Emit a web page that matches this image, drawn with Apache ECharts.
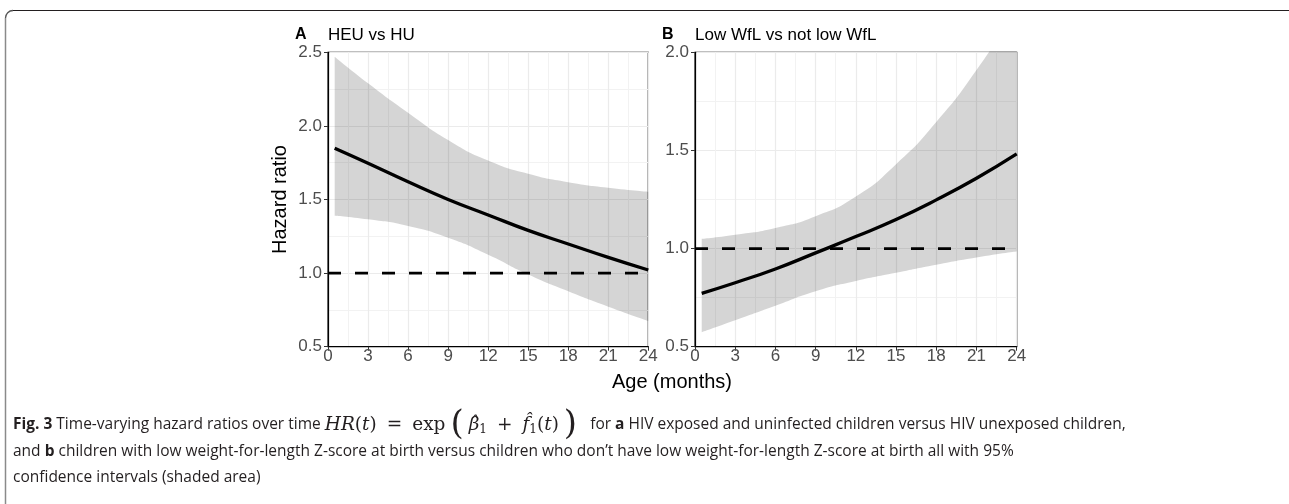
<!DOCTYPE html>
<html>
<head>
<meta charset="utf-8">
<script src="https://cdn.jsdelivr.net/npm/echarts@6/dist/echarts.min.js"></script>
<style>
  html, body { margin: 0; padding: 0; background: #fff; }
  #chart { width: 1289px; height: 504px; }
</style>
</head>
<body>
<div id="chart"></div>
<script>
// months since birth, shared by both panels
const ages = [0.5, 3, 6, 9, 12, 15, 18, 21, 24];

// panel A: HEU vs HU
const fitA = [1.848, 1.746, 1.62, 1.50, 1.395, 1.29, 1.198, 1.107, 1.021];
const upperA = [2.47, 2.29, 2.09, 1.905, 1.765, 1.675, 1.618, 1.58, 1.553];
const lowerA = [1.39, 1.365, 1.32, 1.24, 1.125, 0.99, 0.876, 0.772, 0.675];

// panel B: low WfL vs not low WfL
const fitB = [0.772, 0.826, 0.896, 0.978, 1.061, 1.148, 1.248, 1.358, 1.482];
const upperB = [1.049, 1.07, 1.105, 1.165, 1.265, 1.43, 1.645, 1.91, 2.22];
const lowerB = [0.574, 0.635, 0.709, 0.783, 0.835, 0.877, 0.918, 0.955, 0.985];

const refLine = [[0, 1], [24, 1]];

const pairs = (xs, ys) => xs.map((x, i) => [x, ys[i]]);
// value first, age second: lets the stack run on the y dimension
const valueFirst = (xs, ys) => xs.map((x, i) => [ys[i], x]);
const diff = (hi, lo) => hi.map((v, i) => +(v - lo[i]).toFixed(4));

const FONT = 'Liberation Sans';

function xAxisFor(gridIndex) {
    return {
        type: 'value',
        gridIndex: gridIndex,
        min: 0,
        max: 24,
        interval: 3,
        axisLine: { show: true, onZero: false, lineStyle: { color: '#000', width: 1.2 } },
        axisTick: { show: true, length: 4, lineStyle: { color: '#333', width: 1 } },
        axisLabel: { color: '#4d4d4d', fontSize: 17, fontFamily: FONT, margin: 1 },
        splitLine: { show: true, lineStyle: { color: '#ebebeb', width: 1.2 } },
        minorTick: { show: false, splitNumber: 2 },
        minorSplitLine: { show: true, lineStyle: { color: '#f2f2f2', width: 1 } }
    };
}

function yAxisFor(gridIndex, max, name) {
    return {
        type: 'value',
        gridIndex: gridIndex,
        min: 0.5,
        max: max,
        interval: 0.5,
        name: name,
        nameLocation: 'middle',
        nameGap: 38,
        nameTextStyle: { color: '#000', fontSize: 20, fontFamily: FONT },
        axisLine: { show: true, onZero: false, lineStyle: { color: '#000', width: 1.2 } },
        axisTick: { show: true, length: 4, lineStyle: { color: '#333', width: 1 } },
        axisLabel: {
            color: '#4d4d4d', fontSize: 17, fontFamily: FONT, margin: 6,
            formatter: v => v.toFixed(1)
        },
        splitLine: { show: true, lineStyle: { color: '#ebebeb', width: 1.2 } },
        minorTick: { show: false, splitNumber: 2 },
        minorSplitLine: { show: true, lineStyle: { color: '#f2f2f2', width: 1 } }
    };
}

function panelSeries(idx, fit, upper, lower) {
    const stackId = 'band' + idx;
    return [
        {
            type: 'line', xAxisIndex: idx, yAxisIndex: idx,
            data: valueFirst(ages, lower), encode: { x: 1, y: 0 },
            stack: stackId, smooth: 0.6,
            symbol: 'none', silent: true, lineStyle: { opacity: 0 }, z: 1
        },
        {
            type: 'line', xAxisIndex: idx, yAxisIndex: idx,
            data: valueFirst(ages, diff(upper, lower)), encode: { x: 1, y: 0 },
            stack: stackId, smooth: 0.6,
            symbol: 'none', silent: true, lineStyle: { opacity: 0 },
            areaStyle: { color: 'rgba(0,0,0,0.165)', opacity: 1 }, z: 1
        },
        {
            type: 'line', xAxisIndex: idx, yAxisIndex: idx,
            data: refLine, symbol: 'none', silent: true,
            lineStyle: { color: '#000', width: 2.8, type: [13, 14], dashOffset: 0 }, z: 2
        },
        {
            type: 'line', xAxisIndex: idx, yAxisIndex: idx,
            data: pairs(ages, fit), smooth: true, symbol: 'none', silent: true,
            lineStyle: { color: '#000', width: 3.3 }, z: 3
        }
    ];
}

const mathRich = {
    b: { fontFamily: 'Open Sans', fontWeight: 'bold', fontSize: 15.5, color: '#231f20' },
    m: { fontFamily: 'DejaVu Serif', fontStyle: 'italic', fontSize: 18.5, color: '#231f20' },
    r: { fontFamily: 'DejaVu Serif', fontSize: 18.5, color: '#231f20' },
    op: { fontFamily: 'DejaVu Serif', fontSize: 18.5, color: '#231f20', padding: [0, 10, 0, 10] },
    big: { fontFamily: 'DejaVu Serif', fontSize: 34, color: '#231f20', padding: [0, 5, 0, 5] },
    sub: { fontFamily: 'DejaVu Serif', fontSize: 12, color: '#231f20', padding: [10, 0, 0, 0] }
};

const captionLines = [
    '{b|Fig. 3} Time-varying hazard ratios over time {m|HR}{r|(}{m|t}{r|)}{op|=}{r|exp}{big|(}{m|β̂}{sub|1}{op|+}{m|f̂}{sub|1}{r|(}{m|t}{r|)}{big|)}  for {b|a} HIV exposed and uninfected children versus HIV unexposed children,',
    'and {b|b} children with low weight-for-length Z-score at birth versus children who don’t have low weight-for-length Z-score at birth all with 95%',
    'confidence intervals (shaded area)'
];
const captionY = [425, 452, 478];

const chart = echarts.init(document.getElementById('chart'));

const option = {
    backgroundColor: '#fff',
    animation: false,
    grid: [
        { left: 328, top: 52.3, width: 320.3, height: 294.4, show: true, borderColor: '#000', borderWidth: 1.2, backgroundColor: '#fff' },
        { left: 695, top: 52.3, width: 321.7, height: 294.4, show: true, borderColor: '#000', borderWidth: 1.2, backgroundColor: '#fff' }
    ],
    xAxis: [xAxisFor(0), xAxisFor(1)],
    yAxis: [yAxisFor(0, 2.5, 'Hazard ratio'), yAxisFor(1, 2.0, '')],
    series: [].concat(
        panelSeries(0, fitA, upperA, lowerA),
        panelSeries(1, fitB, upperB, lowerB)
    ),
    graphic: [
        // figure frame: grey left edge, dark top edge with rounded corner
        {
            type: 'line', silent: true,
            shape: { x1: 5.5, y1: 18, x2: 5.5, y2: 504 },
            style: { stroke: '#8a8a8a', lineWidth: 1.5 }
        },
        {
            type: 'arc', silent: true,
            shape: { cx: 13, cy: 18, r: 7.5, startAngle: Math.PI, endAngle: Math.PI * 1.5 },
            style: { stroke: '#555', lineWidth: 1.3, fill: null }
        },
        {
            type: 'line', silent: true,
            shape: { x1: 13, y1: 10.5, x2: 1289, y2: 10.5 },
            style: { stroke: '#231f20', lineWidth: 1.2 }
        },
        // panel tags and titles
        { type: 'text', left: 295, top: 27, style: { text: 'A', font: 'bold 16px "Liberation Sans"', fill: '#000' } },
        { type: 'text', left: 328, top: 27, style: { text: 'HEU vs HU', font: '17px "Liberation Sans"', fill: '#000' } },
        { type: 'text', left: 662, top: 27, style: { text: 'B', font: 'bold 16px "Liberation Sans"', fill: '#000' } },
        { type: 'text', left: 695, top: 27, style: { text: 'Low WfL vs not low WfL', font: '17px "Liberation Sans"', fill: '#000' } },
        // shared x axis title
        { type: 'text', x: 672, y: 382, style: { text: 'Age (months)', font: '20px "Liberation Sans"', fill: '#000', align: 'center', verticalAlign: 'middle' } }
    ].concat(captionLines.map((t, i) => ({
        type: 'text', x: 13, y: captionY[i],
        style: {
            text: t, rich: mathRich,
            font: '15.5px "Open Sans"', fill: '#231f20',
            verticalAlign: 'middle'
        }
    })))
};

chart.setOption(option);
</script>
</body>
</html>
